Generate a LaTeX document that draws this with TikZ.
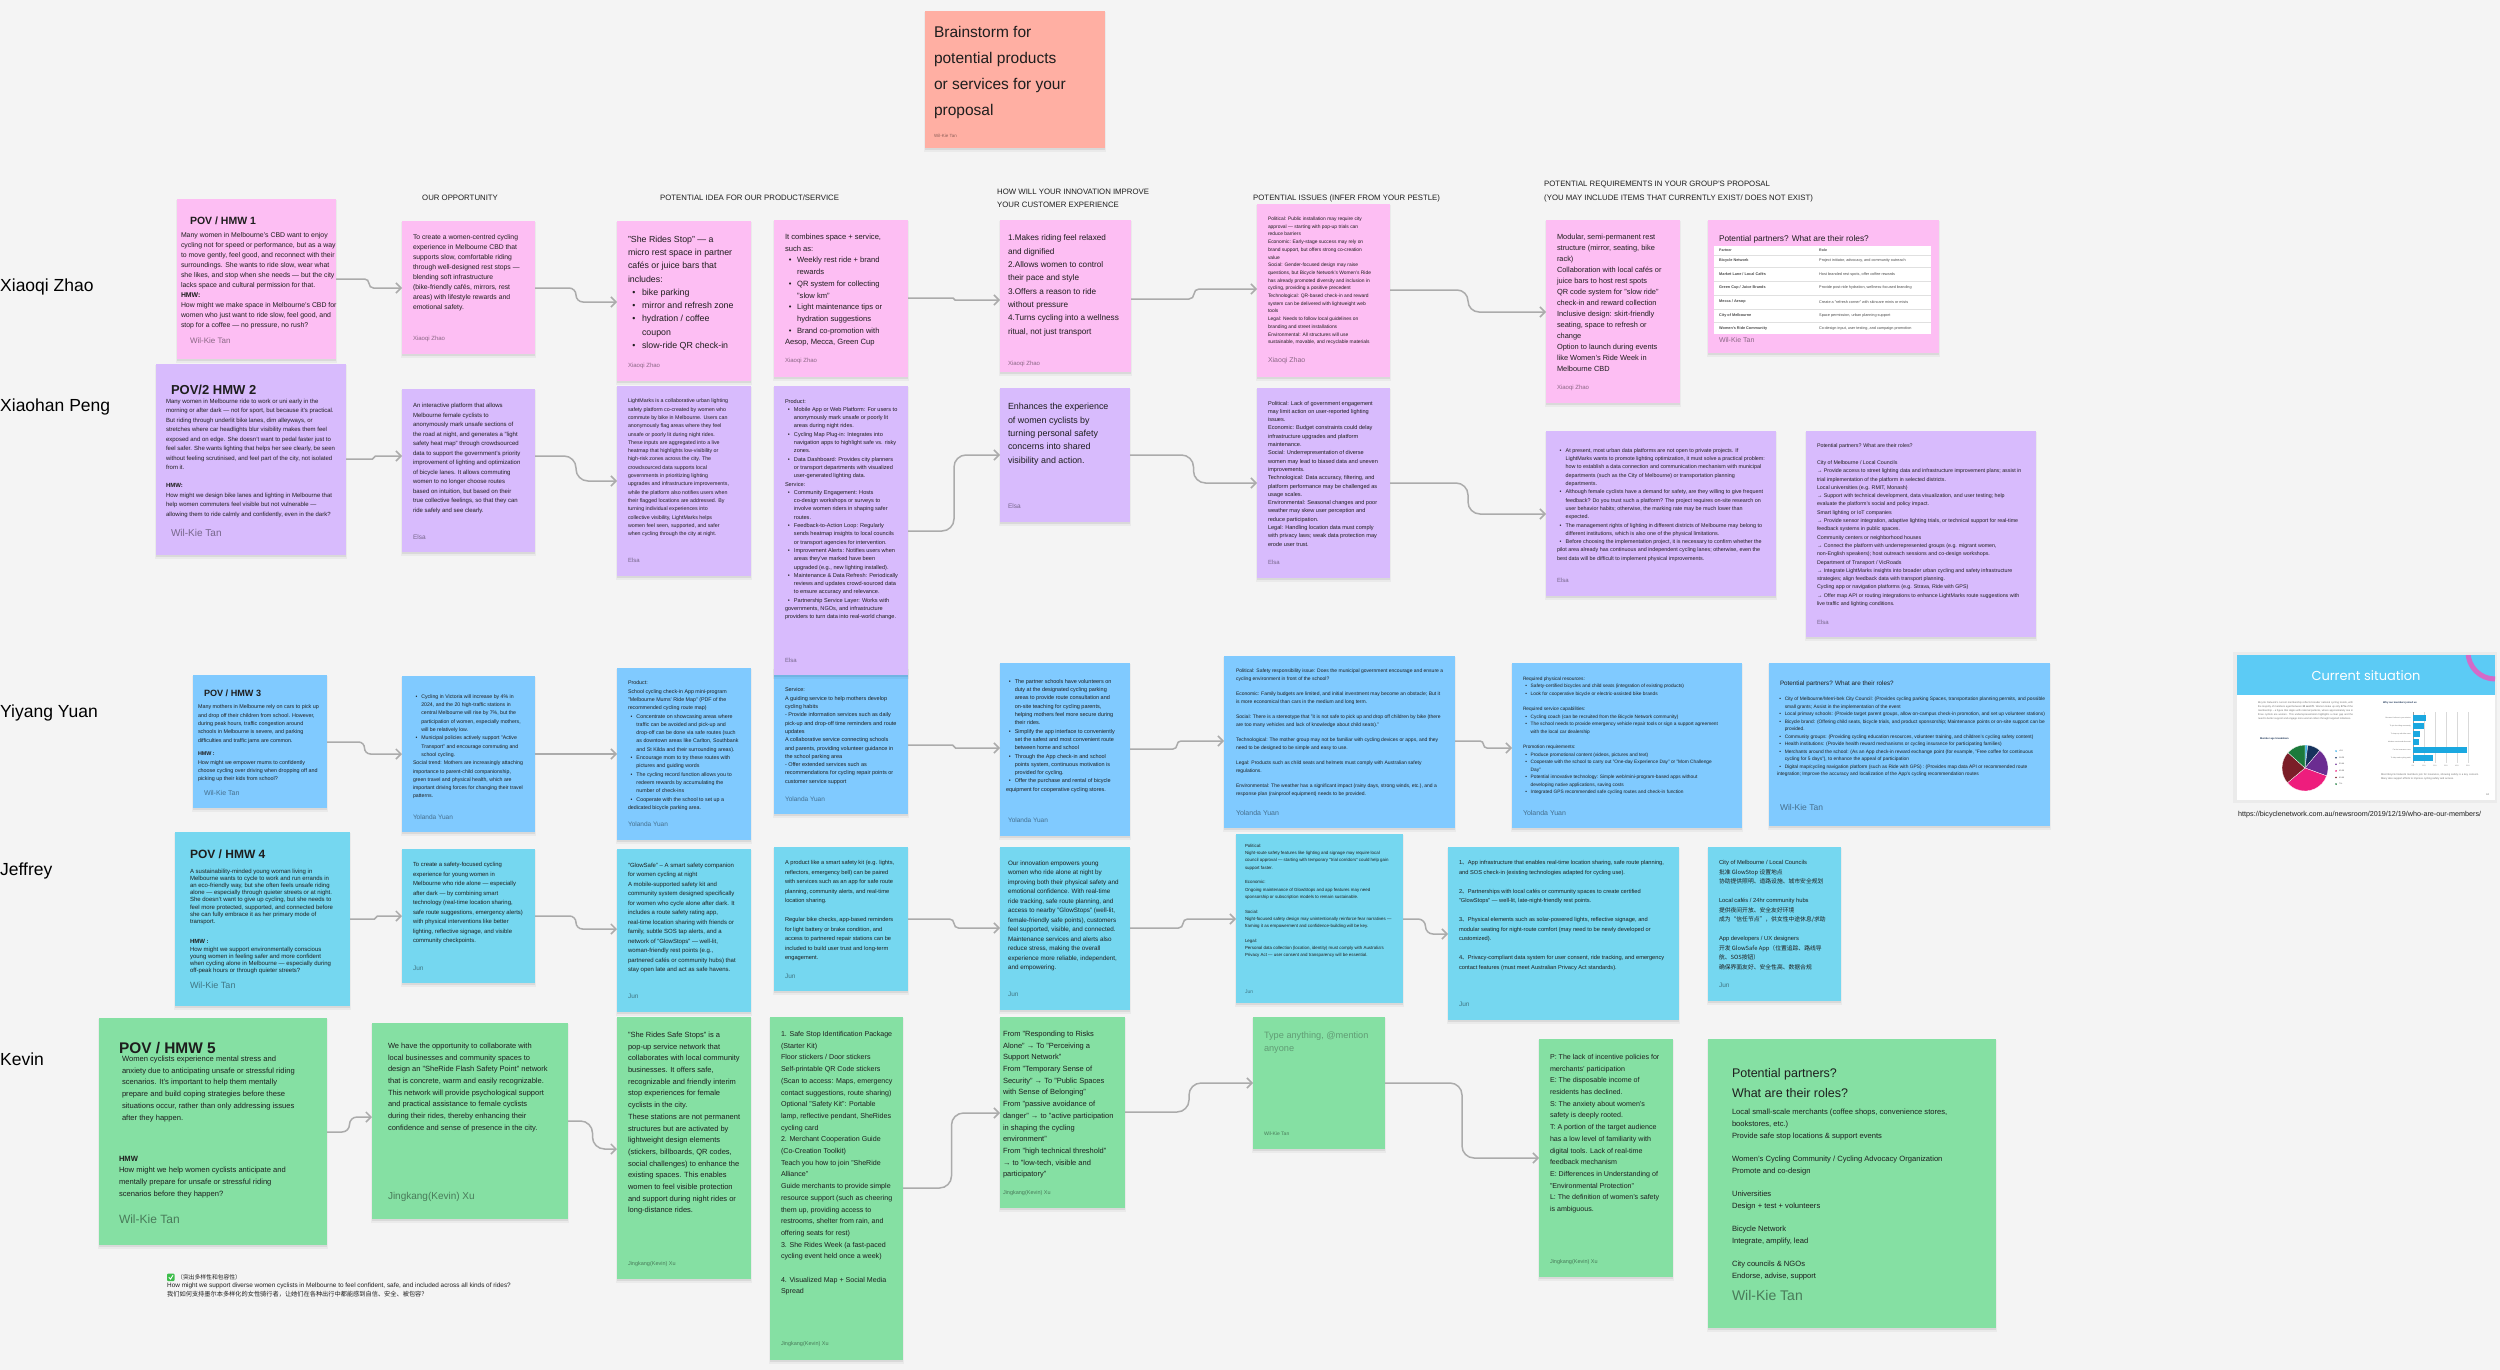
\documentclass[tikz,border=0pt]{standalone}
\usepackage{fontspec}
\setmainfont{Liberation Sans}
\newfontfamily\cjk{Noto Sans CJK SC}
\newfontfamily\popp{Poppins}
\usetikzlibrary{arrows.meta,calc}
\definecolor{bgc}{HTML}{F4F4F4}
\definecolor{pinkc}{HTML}{FDBEF3}
\definecolor{violc}{HTML}{D8BBFD}
\definecolor{bluec}{HTML}{80CAFF}
\definecolor{tealc}{HTML}{75D7F0}
\definecolor{greenc}{HTML}{85E0A3}
\definecolor{redc}{HTML}{FFAFA3}
\definecolor{ink}{HTML}{1E1E1E}
\definecolor{connc}{HTML}{ABABAB}
\definecolor{slideblue}{HTML}{5CCBF5}
\definecolor{navy}{HTML}{1D3557}
\definecolor{chkgreen}{HTML}{3DBE4B}
\definecolor{pc1}{HTML}{3BB0E8}
\definecolor{pc2}{HTML}{16325C}
\definecolor{pc3}{HTML}{6B2C91}
\definecolor{pc4}{HTML}{EE1D7D}
\definecolor{pc5}{HTML}{7B1E28}
\definecolor{pc6}{HTML}{1C7A3B}
\definecolor{barc}{HTML}{1BA8E0}
\definecolor{arcc}{HTML}{D36BC8}
\newcommand\fsz[2]{\fontsize{#1pt}{#2pt}\selectfont\parindent=0pt\parskip=0pt\hyphenpenalty=10000\exhyphenpenalty=10000\relax}
\newcommand\bul{\par\hangindent=1.6em\hangafter=1\noindent\makebox[1.6em][l]{\hspace{0.5em}•}}
\newcommand\gap[1]{\par\vspace{#1pt}}
\tikzset{
 txt/.style={anchor=north west, inner sep=0pt, outer sep=0pt, align=flush left, text=ink},
 authst/.style={anchor=west, inner sep=0pt, outer sep=0pt, text=black, text opacity=0.45},
 hdr/.style={anchor=west, inner sep=0pt, text=ink, font=\fsz{7.8}{9}},
 rowname/.style={anchor=west, inner sep=0pt, text=black, font=\fsz{17.5}{20}},
 conn/.style={draw=connc, line width=1.5pt, -{Straight Barb[length=5pt,width=10pt]}},
 tiny/.style={anchor=west, inner sep=0pt, text=black!70},
}
\newcommand\sticky[6]{%
  \fill[black,opacity=0.04] (#3-1,#4+1) rectangle (#3+#5+1,#4+#6+4);
  \fill[black,opacity=0.07] (#3,#4+1) rectangle (#3+#5,#4+#6+2);
  \node[fill=#2, anchor=north west, minimum width=#5pt, minimum height=#6pt, inner sep=0pt, outer sep=0pt] (#1) at (#3,#4) {};
}
\newcommand\authr[5]{\node[authst, font=\fsz{#4}{#4}] (#1) at (#2,#3) {#5};}
\newcommand\conlink[4]{%
  \coordinate (ls) at (#1.east |- 0,#2);
  \coordinate (lt) at (#3.west |- 0,#4);
  \draw[conn] let \p1=(ls), \p2=(lt), \n1={min(abs(\y2-(\y1))/2,12)} in
    (ls) [rounded corners=\n1] -- (\x1*0.5+\x2*0.5,\y1) -- (\x1*0.5+\x2*0.5,\y2) -- (lt);
}
\begin{document}
\begin{tikzpicture}[x=1pt,y=-1pt]
\useasboundingbox (0,0) rectangle (2500,1370);
\fill[bgc] (0,0) rectangle (2500,1370);

% ---------- title ----------
\sticky{title}{redc}{925}{11}{180}{137}
\node[txt, font=\fsz{15.5}{26}] (titleT) at (934,26) {Brainstorm for\\potential products\\or services for your\\proposal};
\authr{titleA}{934}{136}{4.5}{Wil-Kie Tan}

% ---------- headers ----------
\node[hdr] (hOpp) at (422,198) {OUR OPPORTUNITY};
\node[hdr] (hIdea) at (660,198) {POTENTIAL IDEA FOR OUR PRODUCT/SERVICE};
\node[hdr] (hCustA) at (997,192) {HOW WILL YOUR INNOVATION IMPROVE};
\node[hdr] (hCustB) at (997,205) {YOUR CUSTOMER EXPERIENCE};
\node[hdr] (hIss) at (1253,198) {POTENTIAL ISSUES (INFER FROM YOUR PESTLE)};
\node[hdr] (hReqA) at (1544,185) {POTENTIAL REQUIREMENTS IN YOUR GROUP'S PROPOSAL};
\node[hdr] (hReqB) at (1544,198) {(YOU MAY INCLUDE ITEMS THAT CURRENTLY EXIST/ DOES NOT EXIST)};

% ---------- row names ----------
\node[rowname] (nA) at (0,287) {Xiaoqi Zhao};
\node[rowname] (nB) at (0,407) {Xiaohan Peng};
\node[rowname] (nC) at (0,713) {Yiyang Yuan};
\node[rowname] (nD) at (0,871) {Jeffrey};
\node[rowname] (nE) at (0,1059) {Kevin};

% ================= ROW 1 (pink) =================
\sticky{pov1}{pinkc}{177}{199}{159}{160}
\node[txt, font=\bfseries\fsz{10.5}{12}] (pov1T) at (190,217) {POV / HMW 1};
\node[txt, text width=156pt, font=\fsz{6.9}{10}] (pov1B) at (181,232.5) {Many women in Melbourne's CBD want to enjoy cycling not for speed or performance, but as a way to move gently, feel good, and reconnect with their surroundings. She wants to ride slow, wear what she likes, and stop when she needs — but the city lacks space and cultural permission for that.};
\node[txt, text width=156pt, font=\fsz{6.9}{10}] (pov1H) at (181,292.5) {\textbf{HMW:}\par How might we make space in Melbourne's CBD for women who just want to ride slow, feel good, and stop for a coffee — no pressure, no rush?};
\authr{pov1A}{190}{341}{8}{Wil-Kie Tan}

\sticky{opp1}{pinkc}{402}{221}{133}{133}
\node[txt, text width=111pt, font=\fsz{6.8}{10}] (opp1B) at (413,234.5) {To create a women-centred cycling experience in Melbourne CBD that supports slow, comfortable riding through well-designed rest stops — blending soft infrastructure (bike-friendly cafés, mirrors, rest areas) with lifestyle rewards and emotional safety.};
\authr{opp1A}{413}{339}{6}{Xiaoqi Zhao}

\sticky{idea1a}{pinkc}{617}{221}{134}{160}
\node[txt, text width=108pt, font=\fsz{8.8}{13.3}] (idea1aB) at (628,235.8) {"She Rides Stop" — a micro rest space in partner cafés or juice bars that includes:\bul bike parking\bul mirror and refresh zone\bul hydration / coffee coupon\bul slow-ride QR check-in};
\authr{idea1aA}{628}{366}{6}{Xiaoqi Zhao}

\sticky{idea1b}{pinkc}{774}{220}{134}{157}
\node[txt, text width=105pt, font=\fsz{7.6}{11.7}] (idea1bB) at (785,234) {It combines space + service, such as:\bul Weekly rest ride + brand rewards\bul QR system for collecting "slow km"\bul Light maintenance tips or hydration suggestions\bul Brand co-promotion with Aesop, Mecca, Green Cup};
\authr{idea1bA}{785}{361}{6}{Xiaoqi Zhao}

\sticky{cust1}{pinkc}{1000}{220}{131}{152}
\node[txt, text width=111pt, font=\fsz{8.2}{13.3}] (cust1B) at (1008,235) {1.Makes riding feel relaxed and dignified\par 2.Allows women to control their pace and style\par 3.Offers a reason to ride without pressure\par 4.Turns cycling into a wellness ritual, not just transport};
\authr{cust1A}{1008}{364}{6}{Xiaoqi Zhao}

\sticky{iss1}{pinkc}{1257}{204}{133}{173}
\node[txt, text width=103pt, font=\fsz{4.9}{7.7}] (iss1B) at (1268,217) {Political: Public installation may require city approval — starting with pop-up trials can reduce barriers\par Economic: Early-stage success may rely on brand support, but offers strong co-creation value\par Social: Gender-focused design may raise questions, but Bicycle Network's Women's Ride has already promoted diversity and inclusion in cycling, providing a positive precedent\par Technological: QR-based check-in and reward system can be delivered with lightweight web tools\par Legal: Needs to follow local guidelines on branding and street installations\par Environmental: All structures will use sustainable, movable, and recyclable materials};
\authr{iss1A}{1268}{361}{7}{Xiaoqi Zhao}

\sticky{req1}{pinkc}{1546}{220}{134}{183}
\node[txt, text width=105pt, font=\fsz{7.4}{11}] (req1B) at (1557,234) {Modular, semi-permanent rest structure (mirror, seating, bike rack)\par Collaboration with local cafés or juice bars to host rest spots\par QR code system for "slow ride" check-in and reward collection\par Inclusive design: skirt-friendly seating, space to refresh or change\par Option to launch during events like Women's Ride Week in Melbourne CBD};
\authr{req1A}{1557}{388}{6}{Xiaoqi Zhao}

\sticky{par1}{pinkc}{1708}{220}{231}{133}
\node[txt, font=\fsz{8.3}{10}] (par1T) at (1719,235) {Potential partners? What are their roles?};
\fill[white] (1714,246) rectangle (1931,334);
\foreach \yy in {255.5,267.5,281,295,309,322.5} \draw[black!12, line width=0.4pt] (1714,\yy) -- (1931,\yy);
\node[tiny, font=\bfseries\fsz{3.6}{4}] (tbH1) at (1719,250) {Partner};
\node[tiny, font=\bfseries\fsz{3.6}{4}] (tbH2) at (1819,250) {Role};
\node[tiny, font=\bfseries\fsz{3.8}{4}] (tbP1) at (1719,261) {Bicycle Network};
\node[tiny, font=\fsz{3.8}{4}] (tbR1) at (1819,261) {Project initiator, advocacy, and community outreach};
\node[tiny, font=\bfseries\fsz{3.8}{4}] (tbP2) at (1719,274.5) {Market Lane / Local Cafés};
\node[tiny, font=\fsz{3.8}{4}] (tbR2) at (1819,274.5) {Host branded rest spots, offer coffee rewards};
\node[tiny, font=\bfseries\fsz{3.8}{4}] (tbP3) at (1719,288) {Green Cup / Juice Brands};
\node[tiny, font=\fsz{3.8}{4}] (tbR3) at (1819,288) {Provide post-ride hydration, wellness-focused branding};
\node[tiny, font=\bfseries\fsz{3.8}{4}] (tbP4) at (1719,302) {Mecca / Aesop};
\node[tiny, font=\fsz{3.8}{4}] (tbR4) at (1819,302) {Create a "refresh corner" with skincare minis or mists};
\node[tiny, font=\bfseries\fsz{3.8}{4}] (tbP5) at (1719,315.5) {City of Melbourne};
\node[tiny, font=\fsz{3.8}{4}] (tbR5) at (1819,315.5) {Space permission, urban planning support};
\node[tiny, font=\bfseries\fsz{3.8}{4}] (tbP6) at (1719,329) {Women's Ride Community};
\node[tiny, font=\fsz{3.8}{4}] (tbR6) at (1819,329) {Co-design input, user testing, and campaign promotion};
\authr{par1A}{1719}{340}{7}{Wil-Kie Tan}

% ================= ROW 2 (violet) =================
\sticky{pov2}{violc}{156}{364}{190}{191}
\node[txt, font=\bfseries\fsz{13}{14}] (pov2T) at (171,385.5) {POV/2 HMW 2};
\node[txt, text width=169pt, font=\fsz{6.0}{9.5}] (pov2B) at (166,398.7) {Many women in Melbourne ride to work or uni early in the morning or after dark — not for sport, but because it's practical. But riding through underlit bike lanes, dim alleyways, or stretches where car headlights blur visibility makes them feel exposed and on edge. She doesn't want to pedal faster just to feel safer. She wants lighting that helps her see clearly, be seen without feeling scrutinised, and feel part of the city, not isolated from it.};
\node[txt, text width=169pt, font=\fsz{6.0}{9.5}] (pov2H) at (166,483.7) {\textbf{HMW:}\par How might we design bike lanes and lighting in Melbourne that help women commuters feel visible but not vulnerable — allowing them to ride calmly and confidently, even in the dark?};
\authr{pov2A}{171}{533}{10}{Wil-Kie Tan}

\sticky{opp2}{violc}{402}{389}{133}{163}
\node[txt, text width=109pt, font=\fsz{6.0}{9.5}] (opp2B) at (413,403.6) {An interactive platform that allows Melbourne female cyclists to anonymously mark unsafe sections of the road at night, and generates a "light safety heat map" through crowdsourced data to support the government's priority improvement of lighting and optimization of bicycle lanes. It allows commuting women to no longer choose routes based on intuition, but based on their true collective feelings, so that they can ride safely and see clearly.};
\authr{opp2A}{413}{537}{6.5}{Elsa}

\sticky{idea2a}{violc}{617}{386}{134}{190}
\node[txt, text width=101pt, font=\fsz{5.3}{8.3}] (idea2aB) at (628,399) {LightMarks is a collaborative urban lighting safety platform co-created by women who commute by bike in Melbourne. Users can anonymously flag areas where they feel unsafe or poorly lit during night rides. These inputs are aggregated into a live heatmap that highlights low-visibility or high-risk zones across the city. The crowdsourced data supports local governments in prioritizing lighting upgrades and infrastructure improvements, while the platform also notifies users when their flagged locations are addressed. By turning individual experiences into collective visibility, LightMarks helps women feel seen, supported, and safer when cycling through the city at night.};
\authr{idea2aA}{628}{560}{6}{Elsa}

% blue sticky under the violet one (drawn first)
\sticky{idea3b}{bluec}{774}{668}{134}{146}

\sticky{idea2b}{violc}{774}{386}{134}{289}
\node[txt, text width=113pt, font=\fsz{5.6}{8.3}] (idea2bB) at (785,399) {Product:\bul Mobile App or Web Platform: For users to anonymously mark unsafe or poorly lit areas during night rides.\bul Cycling Map Plug-in: Integrates into navigation apps to highlight safe vs. risky zones.\bul Data Dashboard: Provides city planners or transport departments with visualized user-generated lighting data.\par Service:\bul Community Engagement: Hosts co-design workshops or surveys to involve women riders in shaping safer routes.\bul Feedback-to-Action Loop: Regularly sends heatmap insights to local councils or transport agencies for intervention.\bul Improvement Alerts: Notifies users when areas they've marked have been upgraded (e.g., new lighting installed).\bul Maintenance \& Data Refresh: Periodically reviews and updates crowd-sourced data to ensure accuracy and relevance.\bul Partnership Service Layer: Works with governments, NGOs, and infrastructure providers to turn data into real-world change.};
\authr{idea2bA}{785}{660}{6}{Elsa}

\sticky{cust2}{violc}{1000}{388}{130}{134}
\node[txt, text width=108pt, font=\fsz{8.9}{13.3}] (cust2B) at (1008,403.5) {Enhances the experience of women cyclists by turning personal safety concerns into shared visibility and action.};
\authr{cust2A}{1008}{506}{6.5}{Elsa}

\sticky{iss2}{violc}{1257}{388}{133}{190}
\node[txt, text width=111pt, font=\fsz{5.6}{8.3}] (iss2B) at (1268,401) {Political: Lack of government engagement may limit action on user-reported lighting issues.\par Economic: Budget constraints could delay infrastructure upgrades and platform maintenance.\par Social: Underrepresentation of diverse women may lead to biased data and uneven improvements.\par Technological: Data accuracy, filtering, and platform performance may be challenged as usage scales.\par Environmental: Seasonal changes and poor weather may skew user perception and reduce participation.\par Legal: Handling location data must comply with privacy laws; weak data protection may erode user trust.};
\authr{iss2A}{1268}{562}{6}{Elsa}

\sticky{req2}{violc}{1546}{431}{230}{165}
\node[txt, text width=208pt, font=\fsz{5.4}{8.3}] (req2B) at (1557,444) {\bul At present, most urban data platforms are not open to private projects. If LightMarks wants to promote lighting optimization, it must solve a practical problem: how to establish a data connection and communication mechanism with municipal departments (such as the City of Melbourne) or transportation planning departments.\bul Although female cyclists have a demand for safety, are they willing to give frequent feedback? Do you trust such a platform? The project requires on-site research on user behavior habits; otherwise, the marking rate may be much lower than expected.\bul The management rights of lighting in different districts of Melbourne may belong to different institutions, which is also one of the physical limitations.\bul Before choosing the implementation project, it is necessary to confirm whether the pilot area already has continuous and independent cycling lanes; otherwise, even the best data will be difficult to implement physical improvements.};
\authr{req2A}{1557}{580}{6}{Elsa}

\sticky{par2}{violc}{1806}{431}{230}{206}
\node[txt, text width=207pt, font=\fsz{5.3}{8.3}] (par2B) at (1817,444) {Potential partners? What are their roles?\gap{8.3}City of Melbourne / Local Councils\par → Provide access to street lighting data and infrastructure improvement plans; assist in trial implementation of the platform in selected districts.\par Local universities (e.g. RMIT, Monash)\par → Support with technical development, data visualization, and user testing; help evaluate the platform's social and policy impact.\par Smart lighting or IoT companies\par → Provide sensor integration, adaptive lighting trials, or technical support for real-time feedback systems in public spaces.\par Community centers or neighborhood houses\par → Connect the platform with underrepresented groups (e.g. migrant women, non-English speakers); host outreach sessions and co-design workshops.\par Department of Transport / VicRoads\par → Integrate LightMarks insights into broader urban cycling and safety infrastructure strategies; align feedback data with transport planning.\par Cycling app or navigation platforms (e.g. Strava, Ride with GPS)\par → Offer map API or routing integrations to enhance LightMarks route suggestions with live traffic and lighting conditions.};
\authr{par2A}{1817}{622}{6}{Elsa}

% ================= ROW 3 (blue) =================
\sticky{pov3}{bluec}{193}{675}{134}{133}
\node[txt, font=\bfseries\fsz{9.1}{10}] (pov3T) at (204,689.7) {POV / HMW 3};
\node[txt, text width=124pt, font=\fsz{5.4}{8.3}] (pov3B) at (198,705) {Many mothers in Melbourne rely on cars to pick up and drop off their children from school. However, during peak hours, traffic congestion around schools in Melbourne is severe, and parking difficulties and traffic jams are common.};
\node[txt, text width=124pt, font=\fsz{5.4}{8.3}] (pov3H) at (198,752) {\textbf{HMW :}\par How might we empower mums to confidently choose cycling over driving when dropping off and picking up their kids from school?};
\authr{pov3A}{204}{793}{7}{Wil-Kie Tan}

\sticky{opp3}{bluec}{402}{676}{133}{156}
\node[txt, text width=111pt, font=\fsz{5.2}{8.3}] (opp3B) at (413,690) {\bul Cycling in Victoria will increase by 4\% in 2024, and the 20 high-traffic stations in central Melbourne will rise by 7\%, but the participation of women, especially mothers, will be relatively low.\bul Municipal policies actively support "Active Transport" and encourage commuting and school cycling.\par Social trend: Mothers are increasingly attaching importance to parent-child companionship, green travel and physical health, which are important driving forces for changing their travel patterns.};
\authr{opp3A}{413}{817}{6.5}{Yolanda Yuan}

\sticky{idea3a}{bluec}{617}{668}{134}{172}
\node[txt, text width=112pt, font=\fsz{5.3}{8.3}] (idea3aB) at (628,681) {Product:\par School cycling check-in App mini-program "Melbourne Mums' Ride Map" (PDF of the recommended cycling route map)\bul Concentrate on showcasing areas where traffic can be avoided and pick-up and drop-off can be done via safe routes (such as downtown areas like Carlton, Southbank and St Kilda and their surrounding areas).\bul Encourage mom to try these routes with pictures and guiding words\bul The cycling record function allows you to redeem rewards by accumulating the number of check-ins\bul Cooperate with the school to set up a dedicated bicycle parking area.};
\authr{idea3aA}{628}{824}{6.5}{Yolanda Yuan}

\node[txt, text width=113pt, font=\fsz{5.5}{8.3}] (idea3bB) at (785,688) {Service:\par A guiding service to help mothers develop cycling habits\par - Provide information services such as daily pick-up and drop-off time reminders and route updates\par A collaborative service connecting schools and parents, providing volunteer guidance in the school parking area\par - Offer extended services such as recommendations for cycling repair points or customer service support};
\authr{idea3bA}{785}{799}{6.5}{Yolanda Yuan}

\sticky{cust3}{bluec}{1000}{663}{130}{173}
\node[txt, text width=110pt, font=\fsz{5.5}{8.3}] (cust3B) at (1006,675) {\bul The partner schools have volunteers on duty at the designated cycling parking areas to provide route consultation and on-site teaching for cycling parents, helping mothers feel more secure during their rides.\bul Simplify the app interface to conveniently set the safest and most convenient route between home and school\bul Through the App check-in and school points system, continuous motivation is provided for cycling.\bul Offer the purchase and rental of bicycle equipment for cooperative cycling stores.};
\authr{cust3A}{1008}{820}{6.5}{Yolanda Yuan}

\sticky{iss3}{bluec}{1224}{656}{231}{172}
\node[txt, text width=208pt, font=\fsz{5.0}{8.3}] (iss3B) at (1236,669) {Political: Safety responsibility issue: Does the municipal government encourage and ensure a cycling environment in front of the school?\gap{6.4}Economic: Family budgets are limited, and initial investment may become an obstacle; But it is more economical than cars in the medium and long term.\gap{6.4}Social: There is a stereotype that "it is not safe to pick up and drop off children by bike (there are too many vehicles and lack of knowledge about child seats)."\gap{6.4}Technological: The mother group may not be familiar with cycling devices or apps, and they need to be designed to be simple and easy to use.\gap{6.4}Legal: Products such as child seats and helmets must comply with Australian safety regulations.\gap{6.4}Environmental: The weather has a significant impact (rainy days, strong winds, etc.), and a response plan (rainproof equipment) needs to be provided.};
\authr{iss3A}{1236}{813}{7}{Yolanda Yuan}

\sticky{req3}{bluec}{1512}{663}{230}{165}
\node[txt, text width=195pt, font=\fsz{4.8}{7.5}] (req3B) at (1523,677) {Required physical resources:\bul Safety-certified bicycles and child seats (integration of existing products)\bul Look for cooperative bicycle or electric-assisted bike brands\gap{8}Required service capabilities:\bul Cycling coach (can be recruited from the Bicycle Network community)\bul The school needs to provide emergency vehicle repair tools or sign a support agreement with the local car dealership\gap{8}Promotion requirements:\bul Produce promotional content (videos, pictures and text)\bul Cooperate with the school to carry out "One-day Experience Day" or "Mom Challenge Day"\bul Potential innovative technology: Simple web/mini-program-based apps without developing native applications, saving costs\bul Integrated GPS recommended safe cycling routes and check-in function};
\authr{req3A}{1523}{813}{7}{Yolanda Yuan}

\sticky{par3}{bluec}{1769}{663}{281}{163}
\node[txt, font=\fsz{6.3}{8}] (par3T) at (1780,680.7) {Potential partners? What are their roles?};
\node[txt, text width=268pt, font=\fsz{4.85}{7.5}] (par3B) at (1777,693) {\bul City of Melbourne/Merri-bek City Council: (Provides cycling parking Spaces, transportation planning permits, and possible small grants; Assist in the implementation of the event\bul Local primary schools: (Provide target parent groups, allow on-campus check-in promotion, and set up volunteer stations)\bul Bicycle brand: (Offering child seats, bicycle trials, and product sponsorship; Maintenance points or on-site support can be provided.\bul Community groups: (Providing cycling education resources, volunteer training, and children's cycling safety content)\bul Health institutions: (Provide health reward mechanisms or cycling insurance for participating families)\bul Merchants around the school: (As an App check-in reward exchange point (for example, "Free coffee for continuous cycling for 5 days"), to enhance the appeal of participation\bul Digital map/cycling navigation platform (such as Ride with GPS) : (Provides map data API or recommended route integration; Improve the accuracy and localization of the App's cycling recommendation routes};
\authr{par3A}{1780}{807}{8.5}{Wil-Kie Tan}

% ================= ROW 4 (teal) =================
\sticky{pov4}{tealc}{175}{832}{175}{174}
\node[txt, font=\bfseries\fsz{12}{13}] (pov4T) at (190,849.5) {POV / HMW 4};
\node[txt, text width=146pt, font=\fsz{6.0}{7.2}] (pov4B) at (190,868.7) {A sustainability-minded young woman living in Melbourne wants to cycle to work and run errands in an eco-friendly way, but she often feels unsafe riding alone — especially through quieter streets or at night. She doesn't want to give up cycling, but she needs to feel more protected, supported, and connected before she can fully embrace it as her primary mode of transport.};
\node[txt, text width=146pt, font=\fsz{6.0}{7.2}] (pov4H) at (190,939.7) {\textbf{HMW :}\par How might we support environmentally conscious young women in feeling safer and more confident when cycling alone in Melbourne — especially during off-peak hours or through quieter streets?};
\authr{pov4A}{190}{985}{9}{Wil-Kie Tan}

\sticky{opp4}{tealc}{402}{849}{133}{134}
\node[txt, text width=110pt, font=\fsz{5.9}{9.5}] (opp4B) at (413,862.7) {To create a safety-focused cycling experience for young women in Melbourne who ride alone — especially after dark — by combining smart technology (real-time location sharing, safe route suggestions, emergency alerts) with physical interventions like better lighting, reflective signage, and visible community checkpoints.};
\authr{opp4A}{413}{968}{6.5}{Jun}

\sticky{idea4a}{tealc}{617}{849}{134}{163}
\node[txt, text width=110pt, font=\fsz{6.0}{9.5}] (idea4aB) at (628,862.7) {"GlowSafe" – A smart safety companion for women cycling at night\par A mobile-supported safety kit and community system designed specifically for women who cycle alone after dark. It includes a route safety rating app, real-time location sharing with friends or family, subtle SOS tap alerts, and a network of "GlowStops" — well-lit, woman-friendly rest points (e.g., partnered cafés or community hubs) that stay open late and act as safe havens.};
\authr{idea4aA}{628}{996}{6.5}{Jun}

\sticky{idea4b}{tealc}{774}{847}{134}{144}
\node[txt, text width=112pt, font=\fsz{5.7}{9.5}] (idea4bB) at (785,860.7) {A product like a smart safety kit (e.g. lights, reflectors, emergency bell) can be paired with services such as an app for safe route planning, community alerts, and real-time location sharing.\gap{9.5}Regular bike checks, app-based reminders for light battery or brake condition, and access to partnered repair stations can be included to build user trust and long-term engagement.};
\authr{idea4bA}{785}{976}{6.5}{Jun}

\sticky{cust4}{tealc}{1000}{847}{130}{163}
\node[txt, text width=111pt, font=\fsz{6.3}{9.5}] (cust4B) at (1008,860.5) {Our innovation empowers young women who ride alone at night by improving both their physical safety and emotional confidence. With real-time ride tracking, safe route planning, and access to nearby "GlowStops" (well-lit, female-friendly safe points), customers feel supported, visible, and connected. Maintenance services and alerts also reduce stress, making the overall experience more reliable, independent, and empowering.};
\authr{cust4A}{1008}{994}{6.5}{Jun}

\sticky{iss4}{tealc}{1236}{834}{167}{169}
\node[txt, text width=148pt, font=\fsz{4.4}{7.3}] (iss4B) at (1245,844.2) {Political:\par Night-route safety features like lighting and signage may require local council approval — starting with temporary "trial corridors" could help gain support faster.\gap{7.3}Economic:\par Ongoing maintenance of GlowStops and app features may need sponsorship or subscription models to remain sustainable.\gap{7.3}Social:\par Night-focused safety design may unintentionally reinforce fear narratives — framing it as empowerment and confidence-building will be key.\gap{7.3}Legal:\par Personal data collection (location, identity) must comply with Australia's Privacy Act — user consent and transparency will be essential.};
\authr{iss4A}{1245}{992}{5}{Jun}

\sticky{req4}{tealc}{1448}{847}{231}{173}
\node[txt, text width=209pt, font=\fsz{5.7}{9.5}] (req4B) at (1459,860.7) {1{\cjk 、}App infrastructure that enables real-time location sharing, safe route planning, and SOS check-in (existing technologies adapted for cycling use).\gap{9.5}2{\cjk 、}Partnerships with local cafés or community spaces to create certified "GlowStops" — well-lit, late-night-friendly rest points.\gap{9.5}3{\cjk 、}Physical elements such as solar-powered lights, reflective signage, and modular seating for night-route comfort (may need to be newly developed or customized).\gap{9.5}4{\cjk 、}Privacy-compliant data system for user consent, ride tracking, and emergency contact features (must meet Australian Privacy Act standards).};
\authr{req4A}{1459}{1004}{6.5}{Jun}

\sticky{par4}{tealc}{1708}{847}{133}{154}
\node[txt, text width=110pt, font=\fsz{5.8}{9.5}] (par4B) at (1719,860.7) {\XeTeXlinebreaklocale "zh"\XeTeXlinebreakskip=0pt plus 1pt City of Melbourne / Local Councils\par {\cjk 批准 GlowStop 设置地点}\par {\cjk 协助提供照明、道路设施、城市安全规划}\gap{9.5}Local cafés / 24hr community hubs\par {\cjk 提供夜间开放、安全友好环境}\par {\cjk 成为“信任节点”，供女性中途休息/求助}\gap{9.5}App developers / UX designers\par {\cjk 开发 GlowSafe App（位置追踪、路线导航、SOS按钮）}\par {\cjk 确保界面友好、安全性高、数据合规}};
\authr{par4A}{1719}{985}{6.5}{Jun}

% ================= ROW 5 (green) =================
\sticky{pov5}{greenc}{99}{1018}{228}{227}
\node[txt, font=\bfseries\fsz{15.4}{16}] (pov5T) at (119,1042.5) {POV / HMW 5};
\node[txt, text width=178pt, font=\fsz{7.6}{11.7}] (pov5B) at (122,1056) {Women cyclists experience mental stress and anxiety due to anticipating unsafe or stressful riding scenarios. It's important to help them mentally prepare and build coping strategies before these situations occur, rather than only addressing issues after they happen.};
\node[txt, text width=182pt, font=\fsz{7.6}{11.7}] (pov5H) at (119,1156) {\textbf{HMW}\par How might we help women cyclists anticipate and mentally prepare for unsafe or stressful riding scenarios before they happen?};
\authr{pov5A}{119}{1219}{12}{Wil-Kie Tan}

\sticky{opp5}{greenc}{372}{1023}{196}{196}
\node[txt, text width=160pt, font=\fsz{7.5}{11.7}] (opp5B) at (388,1043) {We have the opportunity to collaborate with local businesses and community spaces to design an "SheRide Flash Safety Point" network that is concrete, warm and easily recognizable. This network will provide psychological support and practical assistance to female cyclists during their rides, thereby enhancing their confidence and sense of presence in the city.};
\authr{opp5A}{388}{1197}{10}{Jingkang(Kevin) Xu}

\sticky{idea5a}{greenc}{617}{1017}{134}{262}
\node[txt, text width=114pt, font=\fsz{7.5}{11.7}] (idea5aB) at (628,1032) {"She Rides Safe Stops" is a pop-up service network that collaborates with local community businesses. It offers safe, recognizable and friendly interim stop experiences for female cyclists in the city.\par These stations are not permanent structures but are activated by lightweight design elements (stickers, billboards, QR codes, social challenges) to enhance the existing spaces. This enables women to feel visible protection and support during night rides or long-distance rides.};
\authr{idea5aA}{628}{1264}{5.5}{Jingkang(Kevin) Xu}

\sticky{idea5b}{greenc}{770}{1017}{133}{343}
\node[txt, text width=113pt, font=\fsz{7.1}{11.7}] (idea5bB) at (781,1031.4) {1. Safe Stop Identification Package (Starter Kit)\par Floor stickers / Door stickers\par Self-printable QR Code stickers (Scan to access: Maps, emergency contact suggestions, route sharing)\par Optional "Safety Kit": Portable lamp, reflective pendant, SheRides cycling card\par 2. Merchant Cooperation Guide (Co-Creation Toolkit)\par Teach you how to join "SheRide Alliance"\par Guide merchants to provide simple resource support (such as cheering them up, providing access to restrooms, shelter from rain, and offering seats for rest)\par 3. She Rides Week (a fast-paced cycling event held once a week)\gap{11.7}4. Visualized Map + Social Media Spread};
\authr{idea5bA}{781}{1344}{5.5}{Jingkang(Kevin) Xu}

\sticky{cust5}{greenc}{1000}{1017}{125}{191}
\node[txt, text width=112pt, font=\fsz{7.5}{11.7}] (cust5B) at (1003,1031) {From "Responding to Risks Alone" → To "Perceiving a Support Network"\par From "Temporary Sense of Security" → To "Public Spaces with Sense of Belonging"\par From "passive avoidance of danger" → to "active participation in shaping the cycling environment"\par From "high technical threshold" → to "low-tech, visible and participatory"};
\authr{cust5A}{1003}{1193}{5.5}{Jingkang(Kevin) Xu}

\sticky{blank5}{greenc}{1253}{1017}{132}{132}
\node[txt, text width=110pt, text opacity=0.35, font=\fsz{9.2}{13.3}] (blank5B) at (1264,1031.6) {Type anything, @mention anyone};
\authr{blank5A}{1264}{1134}{5}{Wil-Kie Tan}

\sticky{iss5}{greenc}{1539}{1039}{134}{238}
\node[txt, text width=110pt, font=\fsz{7.1}{11.7}] (iss5B) at (1550,1054.3) {P: The lack of incentive policies for merchants' participation\par E: The disposable income of residents has declined.\par S: The anxiety about women's safety is deeply rooted.\par T: A portion of the target audience has a low level of familiarity with digital tools. Lack of real-time feedback mechanism\par E: Differences in Understanding of "Environmental Protection"\par L: The definition of women's safety is ambiguous.};
\authr{iss5A}{1550}{1262}{5.5}{Jingkang(Kevin) Xu}

\sticky{par5}{greenc}{1708}{1039}{288}{289}
\node[txt, font=\fsz{12.5}{20}] (par5T) at (1732,1068.4) {Potential partners?\\What are their roles?};
\node[txt, text width=233pt, font=\fsz{7.6}{11.7}] (par5B) at (1732,1109.2) {Local small-scale merchants (coffee shops, convenience stores, bookstores, etc.)\par Provide safe stop locations \& support events\gap{11.7}Women's Cycling Community / Cycling Advocacy Organization\par Promote and co-design\gap{11.7}Universities\par Design + test + volunteers\gap{11.7}Bicycle Network\par Integrate, amplify, lead\gap{11.7}City councils \& NGOs\par Endorse, advise, support};
\authr{par5A}{1732}{1295}{14}{Wil-Kie Tan}

% ---------- note below row 5 ----------
\fill[chkgreen, rounded corners=1pt] (167,1273.5) rectangle (174.5,1281);
\draw[white, line width=0.9pt] (168.7,1277.3) -- (170.5,1279.1) -- (173,1275.2);
\node[tiny, text=ink, font=\cjk\fsz{5.8}{7}] (noteA) at (177,1277.3) {（突出多样性和包容性）};
\node[tiny, text=ink, font=\fsz{6.4}{7}] (noteB) at (167,1286) {How might we support diverse women cyclists in Melbourne to feel confident, safe, and included across all kinds of rides?};
\node[tiny, text=ink, font=\cjk\fsz{6.2}{7}] (noteC) at (167,1294.5) {我们如何支持墨尔本多样化的女性骑行者，让她们在各种出行中都能感到自信、安全、被包容？};

% ---------- connectors ----------
\conlink{pov1}{279}{opp1}{288}
\conlink{opp1}{288}{idea1a}{302}
\conlink{idea1b}{298}{cust1}{300}
\conlink{cust1}{299}{iss1}{289}
\conlink{iss1}{290}{req1}{312}
\conlink{pov2}{459}{opp2}{456}
\conlink{opp2}{456}{idea2a}{481}
\conlink{idea2b}{531}{cust2}{455}
\conlink{cust2}{455}{iss2}{483}
\conlink{iss2}{483}{req2}{514}
\conlink{pov3}{742}{opp3}{754}
\conlink{opp3}{754}{idea3a}{754}
\conlink{idea3b}{745}{cust3}{748}
\conlink{cust3}{749}{iss3}{741}
\conlink{iss3}{741}{req3}{748}
\conlink{pov4}{919}{opp4}{916}
\conlink{opp4}{916}{idea4a}{929}
\conlink{idea4b}{919}{cust4}{928}
\conlink{cust4}{928}{iss4}{919}
\conlink{iss4}{919}{req4}{934}
\conlink{pov5}{1132}{opp5}{1117}
\conlink{opp5}{1121}{idea5a}{1149}
\conlink{idea5b}{1188}{cust5}{1113}
\conlink{cust5}{1112}{blank5}{1083}
\conlink{blank5}{1083}{iss5}{1158}

% ---------- "Current situation" slide ----------
\fill[black!8] (2233,652) rectangle (2497,803);
\fill[white] (2237,655) rectangle (2495,800);
\fill[slideblue] (2237,655) rectangle (2495,695);
\begin{scope}
\clip (2237,655) rectangle (2495,695);
\draw[arcc, line width=5pt] (2468,652) arc[start angle=180, end angle=270, radius=27pt];
\end{scope}
\node[anchor=center, inner sep=0pt, text=white, font=\popp\fontsize{13}{13}\selectfont] (csT) at (2366,676) {Current situation};
\node[txt, text width=95pt, align=justify, text=black!55, font=\fsz{2.55}{3.9}] (csP) at (2258,702) {Bicycle Network's current membership reflects broader national cycling trends, with the majority of members aged between \textbf{30 and 70}. Women make up only \textbf{37\%} of the membership – a figure that aligns with national patterns, where approximately one in three cyclists are women. This underrepresentation highlights a clear gap and the need to better support and engage more women riders through targeted initiatives.};
\node[tiny, text=navy, font=\bfseries\fsz{2.5}{3}] (csAge) at (2260,739) {Member age breakdown};
\coordinate (pieC) at (2305,768);
\fill[pc1, draw=white, line width=0.3pt] (pieC) -- ++(90:23pt) arc[start angle=90, end angle=83, radius=23pt] -- cycle;
\fill[pc2, draw=white, line width=0.3pt] (pieC) -- ++(83:23pt) arc[start angle=83, end angle=50, radius=23pt] -- cycle;
\fill[pc3, draw=white, line width=0.3pt] (pieC) -- ++(50:23pt) arc[start angle=50, end angle=-20, radius=23pt] -- cycle;
\fill[pc4, draw=white, line width=0.3pt] (pieC) -- ++(-20:23pt) arc[start angle=-20, end angle=-140, radius=23pt] -- cycle;
\fill[pc5, draw=white, line width=0.3pt] (pieC) -- ++(-140:23pt) arc[start angle=-140, end angle=-222, radius=23pt] -- cycle;
\fill[pc6, draw=white, line width=0.3pt] (pieC) -- ++(-222:23pt) arc[start angle=-222, end angle=-270, radius=23pt] -- cycle;
\foreach \c/\l [count=\i] in {pc1/<18,pc2/18-29,pc3/30-44,pc4/45-59,pc5/60-69,pc6/70+}{
  \fill[\c] (2336,744.5+\i*6.6) circle (0.9pt);
  \node[tiny, font=\fsz{2}{2.5}] (lg\i) at (2339,744.5+\i*6.6) {\l};
}
\node[tiny, text=navy, font=\bfseries\fsz{2.5}{3}] (csWhy) at (2383,703) {Why our members joined us};
\foreach \xx in {2424,2435,2446,2457,2468} \draw[black!15, line width=0.3pt] (\xx,712) -- (\xx,763);
\draw[black!40, line width=0.3pt] (2413,712) -- (2413,763);
\foreach \len/\yy/\lab [count=\i] in {12.7/718/Because I believe in your mission,11/726/To join the riding community,7/734.3/To keep up with bike news,5.7/742.3/Member events and discounts,54/750.3/For the insurance cover,20/758/To help make cycling safer}{
  \fill[barc] (2413,\yy-3) rectangle (2413+\len,\yy+3);
  \node[anchor=east, inner sep=0pt, text=black!60, font=\fsz{1.7}{2}] (bl\i) at (2411,\yy) {\lab};
}
\foreach \xx/\t [count=\i] in {2413/0\%,2424/10\%,2435/20\%,2446/30\%,2457/40\%,2468/50\%}
  \node[anchor=north, inner sep=0pt, text=black!50, font=\fsz{1.8}{2}] (ax\i) at (\xx,765) {\t};
\node[txt, text width=98pt, align=justify, text=black!55, font=\fsz{2.6}{4}] (csCap) at (2381,774) {Most Bicycle Network members join for insurance, showing safety is a key concern. Many also support efforts to improve cycling safety and access.};
\node[tiny, text=black!60, font=\fsz{2.5}{3}] (csPg) at (2486,795) {34};
\node[tiny, text=ink, font=\fsz{7.2}{8}] (csUrl) at (2238,815) {https://bicyclenetwork.com.au/newsroom/2019/12/19/who-are-our-members/};

\end{tikzpicture}
\end{document}
